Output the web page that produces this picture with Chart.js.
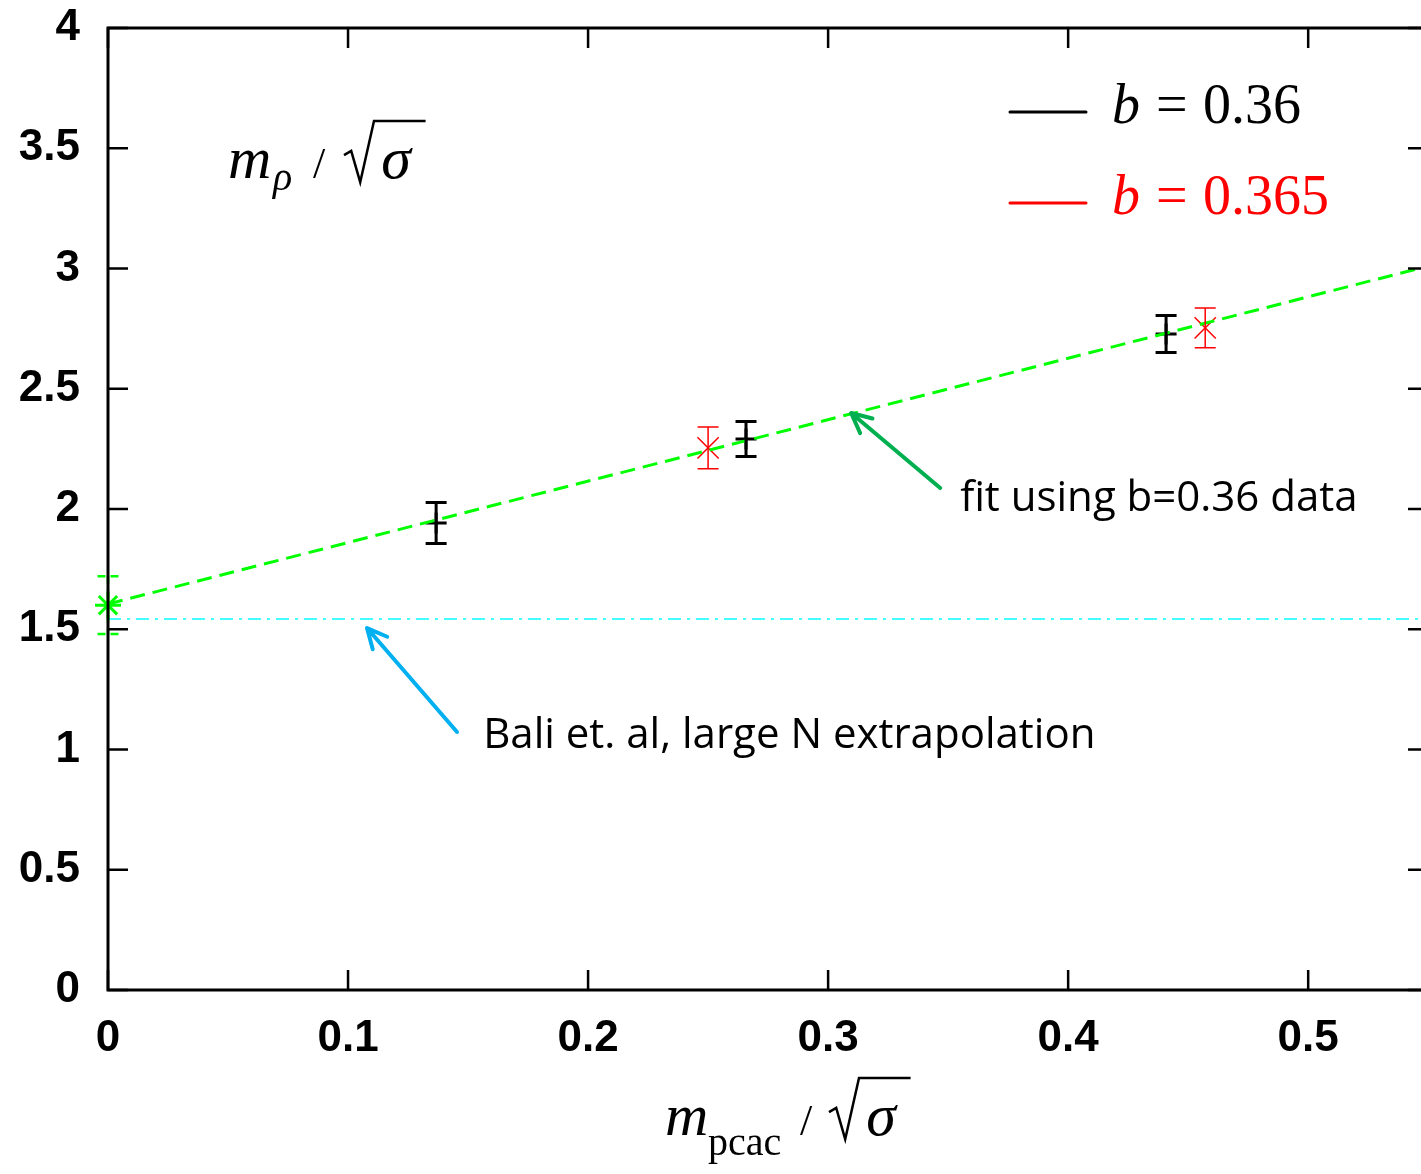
<!DOCTYPE html>
<html lang="en">
<head>
  <meta charset="UTF-8">
  <title>m_rho / sqrt(sigma) vs m_pcac / sqrt(sigma)</title>
  <script src="https://cdn.jsdelivr.net/npm/chart.js"></script>
  <style>
    html, body {
      margin: 0;
      padding: 0;
      overflow: hidden;
      background-color: #fff;
    }
    #wrap {
      width: 1421px;
      height: 1174px;
      overflow: hidden;
    }
    canvas {
      display: block;
    }
  </style>
</head>
<body>
  <div id="wrap">
    <canvas id="grafico" width="1421" height="1174"></canvas>
  </div>

  <script>
    // datos
    const xTicks = [0, 0.1, 0.2, 0.3, 0.4, 0.5];
    const yTicks = [0, 0.5, 1, 1.5, 2, 2.5, 3, 3.5, 4];

    const blackX = [0.1367, 0.2658, 0.4408];
    const blackY = [1.942, 2.291, 2.728];
    const blackErr = [0.085, 0.073, 0.077];

    const redX = [0.25, 0.4571];
    const redY = [2.254, 2.753];
    const redErr = [0.087, 0.083];

    const greenX = [0];
    const greenY = [1.60];
    const greenErr = [0.12];

    const fitX = [0, 0.55];
    const fitY = [1.605, 3.01];

    const baliX = [0, 0.55];
    const baliY = [1.543, 1.543];

    const legendLabels = ['0.36', '0.365'];
    const fitNote = 'fit using b=0.36 data';
    const baliNote = 'Bali et. al, large N extrapolation';

    const toPts = (xs, ys) => xs.map((v, i) => ({ x: v, y: ys[i] }));

    // barras de error, marco con ticks hacia dentro, flechas, textos
    const overlay = {
      id: 'overlay',
      afterDatasetsDraw(chart) {
        const { ctx, scales: { x, y } } = chart;

        function errBars(xs, ys, es, color, lw, dash) {
          ctx.save();
          ctx.strokeStyle = color;
          ctx.lineWidth = lw;
          ctx.setLineDash(dash || []);
          xs.forEach((v, i) => {
            const px = x.getPixelForValue(v);
            const top = y.getPixelForValue(ys[i] + es[i]);
            const bot = y.getPixelForValue(ys[i] - es[i]);
            ctx.beginPath();
            ctx.moveTo(px, top); ctx.lineTo(px, bot);
            ctx.moveTo(px - 10.5, top); ctx.lineTo(px + 10.5, top);
            ctx.moveTo(px - 10.5, bot); ctx.lineTo(px + 10.5, bot);
            ctx.stroke();
          });
          ctx.restore();
        }
        errBars(blackX, blackY, blackErr, '#000', 3);
        errBars(redX, redY, redErr, '#ff0000', 1.5);
        errBars(greenX, greenY, greenErr, '#00ff00', 2.5, [8, 5]);
      },
      afterDraw(chart) {
        const { ctx, chartArea: a, scales: { x, y } } = chart;
        ctx.save();

        // marco (el borde derecho queda fuera de la imagen)
        ctx.strokeStyle = '#000';
        ctx.lineWidth = 3;
        ctx.beginPath();
        ctx.moveTo(a.right + 2, a.top);
        ctx.lineTo(a.left, a.top);
        ctx.lineTo(a.left, a.bottom);
        ctx.lineTo(a.right + 2, a.bottom);
        ctx.stroke();

        // ticks en los cuatro lados
        ctx.lineWidth = 2.5;
        ctx.beginPath();
        xTicks.forEach(v => {
          const px = x.getPixelForValue(v);
          ctx.moveTo(px, a.bottom); ctx.lineTo(px, a.bottom - 20);
          ctx.moveTo(px, a.top); ctx.lineTo(px, a.top + 20);
        });
        yTicks.forEach(v => {
          const py = y.getPixelForValue(v);
          ctx.moveTo(a.left, py); ctx.lineTo(a.left + 20, py);
          ctx.moveTo(a.right + 7, py); ctx.lineTo(a.right - 13, py);
        });
        ctx.stroke();

        // flechas
        function arrow(x0, y0, x1, y1, color) {
          const ax = x.getPixelForValue(x0), ay = y.getPixelForValue(y0);
          const bx = x.getPixelForValue(x1), by = y.getPixelForValue(y1);
          const ang = Math.atan2(by - ay, bx - ax);
          ctx.strokeStyle = color;
          ctx.lineWidth = 4;
          ctx.lineCap = 'round';
          ctx.beginPath();
          ctx.moveTo(ax, ay); ctx.lineTo(bx, by);
          ctx.moveTo(bx, by);
          ctx.lineTo(bx - 22 * Math.cos(ang - 0.45), by - 22 * Math.sin(ang - 0.45));
          ctx.moveTo(bx, by);
          ctx.lineTo(bx - 22 * Math.cos(ang + 0.45), by - 22 * Math.sin(ang + 0.45));
          ctx.stroke();
        }
        arrow(0.3467, 2.087, 0.3096, 2.399, '#00b050');
        arrow(0.1454, 1.073, 0.1079, 1.505, '#00b0f0');

        // anotaciones
        ctx.fillStyle = '#000';
        ctx.font = '42px "Open Sans"';
        ctx.textBaseline = 'middle';
        ctx.textAlign = 'left';
        ctx.fillText(fitNote, x.getPixelForValue(0.355), y.getPixelForValue(2.04));
        ctx.fillText(baliNote, x.getPixelForValue(0.1563), y.getPixelForValue(1.056));

        // leyenda
        ctx.textBaseline = 'alphabetic';
        const lx = a.left + 902;
        const colors = ['#000', '#ff0000'];
        legendLabels.forEach((lab, i) => {
          const base = a.top + 95 + i * 91;
          ctx.strokeStyle = colors[i];
          ctx.fillStyle = colors[i];
          ctx.lineWidth = 3;
          ctx.beginPath();
          ctx.moveTo(lx, base - 11); ctx.lineTo(lx + 76, base - 11);
          ctx.stroke();
          ctx.font = 'italic 56px "Liberation Serif"';
          ctx.fillText('b', lx + 102, base);
          ctx.font = '56px "Liberation Serif"';
          ctx.fillText('=', lx + 146, base);
          ctx.fillText(lab, lx + 193, base);
        });

        // titulos de ejes
        function sqrtSigma(x0, base, size) {
          ctx.lineWidth = 2.5;
          ctx.strokeStyle = '#000';
          ctx.lineCap = 'butt';
          ctx.beginPath();
          ctx.moveTo(x0, base - 0.38 * size);
          ctx.lineTo(x0 + 0.12 * size, base - 0.45 * size);
          ctx.lineTo(x0 + 0.27 * size, base + 0.07 * size);
          ctx.lineTo(x0 + 0.5 * size, base - 0.95 * size);
          ctx.lineTo(x0 + 1.36 * size, base - 0.95 * size);
          ctx.stroke();
          ctx.font = 'italic ' + size + 'px "Liberation Serif"';
          ctx.fillText('\u03c3', x0 + 0.62 * size, base);
        }
        ctx.fillStyle = '#000';
        // eje y
        let tx = a.left + 120, tb = a.top + 150;
        ctx.font = 'italic 60px "Liberation Serif"';
        ctx.fillText('m', tx, tb);
        ctx.font = 'italic 40px "Liberation Serif"';
        ctx.fillText('\u03c1', tx + 45, tb + 12);
        ctx.font = '44px "Liberation Serif"';
        ctx.fillText('/', tx + 85, tb);
        sqrtSigma(tx + 116, tb, 60);
        // eje x
        tx = a.left + 557; tb = a.bottom + 145;
        ctx.font = 'italic 60px "Liberation Serif"';
        ctx.fillText('m', tx, tb);
        ctx.font = '40px "Liberation Serif"';
        ctx.fillText('pcac', tx + 43, tb + 20);
        ctx.font = '44px "Liberation Serif"';
        ctx.fillText('/', tx + 135, tb);
        sqrtSigma(tx + 164, tb, 60);

        ctx.restore();
      }
    };

    const ctxG = document.getElementById('grafico').getContext('2d');
    new Chart(ctxG, {
      type: 'scatter',
      data: {
        datasets: [
          {
            label: 'fit',
            data: toPts(fitX, fitY),
            showLine: true,
            borderColor: '#00ff00',
            borderWidth: 3,
            borderDash: [15, 8],
            pointRadius: 0
          },
          {
            label: 'Bali',
            data: toPts(baliX, baliY),
            showLine: true,
            borderColor: '#44ffff',
            borderWidth: 2,
            borderDash: [13, 6, 3, 6],
            pointRadius: 0
          },
          {
            label: 'b=0.36',
            data: toPts(blackX, blackY),
            pointStyle: 'cross',
            pointRadius: 10.5,
            borderColor: '#000',
            borderWidth: 3
          },
          {
            label: 'b=0.365',
            data: toPts(redX, redY),
            pointStyle: 'crossRot',
            pointRadius: 15,
            borderColor: '#ff0000',
            borderWidth: 1.5
          },
          {
            label: 'extrapolation',
            data: toPts(greenX, greenY),
            pointStyle: 'star',
            pointRadius: 13,
            borderColor: '#00ff00',
            borderWidth: 3,
            clip: false
          }
        ]
      },
      options: {
        responsive: false,
        animation: false,
        devicePixelRatio: 1,
        layout: {
          autoPadding: false,
          padding: { top: 28, left: 0, right: 0, bottom: 0 }
        },
        plugins: {
          legend: { display: false },
          tooltip: { enabled: false }
        },
        scales: {
          x: {
            type: 'linear',
            min: 0,
            max: 0.547,
            afterBuildTicks: s => { s.ticks = xTicks.map(v => ({ value: v })); },
            afterFit: s => {
              s.height = 184;
              s.paddingLeft = 0; s.paddingRight = 0;
              s.paddingTop = 0; s.paddingBottom = 0;
            },
            grid: { display: false, drawTicks: false },
            border: { display: false },
            ticks: {
              padding: 22,
              color: '#000',
              font: { family: '"Liberation Sans"', size: 44, weight: 'bold' },
              callback: v => String(v)
            }
          },
          y: {
            type: 'linear',
            min: 0,
            max: 4,
            afterBuildTicks: s => { s.ticks = yTicks.map(v => ({ value: v })); },
            afterFit: s => {
              s.width = 108;
              s.paddingLeft = 0; s.paddingRight = 0;
              s.paddingTop = 0; s.paddingBottom = 0;
            },
            grid: { display: false, drawTicks: false },
            border: { display: false },
            ticks: {
              padding: 28,
              color: '#000',
              font: { family: '"Liberation Sans"', size: 44, weight: 'bold' },
              callback: v => String(v)
            }
          }
        }
      },
      plugins: [overlay]
    });
  </script>
</body>
</html>
